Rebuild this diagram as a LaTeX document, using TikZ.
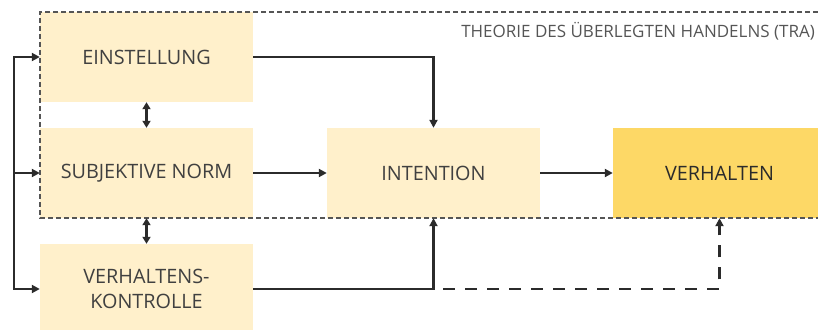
\documentclass[tikz,border=0pt]{standalone}
\usepackage{fontspec}
\setmainfont{Open Sans}
\usetikzlibrary{arrows.meta}
\definecolor{boxlight}{HTML}{FFF0CB}
\definecolor{boxstrong}{HTML}{FDD866}
\definecolor{ink}{HTML}{2B2B2B}
\definecolor{textgray}{HTML}{404040}
\definecolor{framegray}{HTML}{555555}
\begin{document}
\begin{tikzpicture}[x=1pt,y=-1pt,
  factor/.style={fill=boxlight, minimum width=213pt, minimum height=90pt,
    inner sep=0pt, align=center, text=textgray,
    font=\fontsize{19.8}{25}\selectfont},
  outcome/.style={factor, fill=boxstrong, text=ink},
  tip/.style={-{Triangle[length=8pt,width=8pt]}},
  link/.style={tip, draw=ink, line width=2.6pt},
  mutual/.style={{Triangle[length=7pt,width=8pt]}-{Triangle[length=7pt,width=8pt]},
    draw=ink, line width=2.6pt},
  feedback/.style={link, dash pattern=on 12pt off 10pt, dash phase=8pt},
  tra/.style={draw=framegray, line width=1.6pt, dash pattern=on 5pt off 3pt}]
\useasboundingbox (0,0) rectangle (818,329);

% factors and outcome
\node[factor] (ein) at (146.5,57)  {EINSTELLUNG};
\node[factor] (sub) at (146.5,173) {SUBJEKTIVE NORM};
\node[factor] (kon) at (146.5,289) {VERHALTENS-\\KONTROLLE};
\node[factor] (int) at (433.5,173) {INTENTION};
\node[outcome] (ver) at (719.5,173) {VERHALTEN};

% TRA frame
\draw[tra] (826,12) -- (40,12) -- (40,218) -- (826,218);
\node[anchor=base east, inner sep=0pt, text=framegray,
  font=\fontsize{17}{20}\selectfont] (lbl) at (815,37.5)
  {THEORIE DES ÜBERLEGTEN HANDELNS (TRA)};

% feedback bus on the left
\coordinate (bus) at (14,0);
\draw[link, {Triangle[length=8pt,width=8pt]}-{Triangle[length=8pt,width=8pt]}]
  (ein.west) -| (bus |- kon.west) -- (kon.west);
\draw[link] (bus |- sub.west) -- (sub.west);

% correlations between the factors
\draw[mutual] (ein.south) -- (sub.north);
\draw[mutual] (sub.south) -- (kon.north);

% paths to intention and behaviour
\draw[feedback] (kon.east) -| (ver.south);
\draw[link] (ein.east) -| (int.north);
\draw[link] (sub.east) -- (int.west);
\draw[link] (kon.east) -| (int.south);
\draw[link] (int.east) -- (ver.west);
\end{tikzpicture}
\end{document}
